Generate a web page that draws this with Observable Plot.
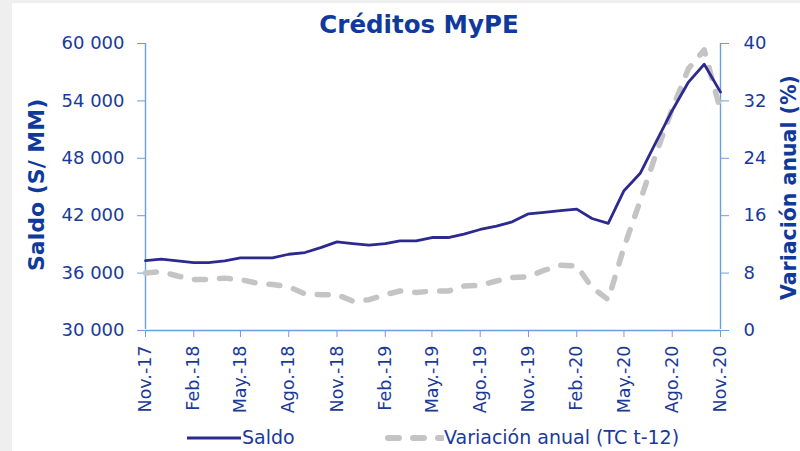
<!DOCTYPE html>
<html>
<head>
<meta charset="utf-8">
<script src="https://cdn.jsdelivr.net/npm/d3@7"></script>
<script src="https://cdn.jsdelivr.net/npm/@observablehq/plot@0.6"></script>
<style>
  html, body { margin: 0; padding: 0; background: #efefef; }
  #wrap { position: relative; width: 800px; height: 451px; overflow: hidden; font-family: "DejaVu Sans", sans-serif; }
  #panel { position: absolute; left: 12px; top: 3px; width: 788px; height: 448px; background: #fff; }
  #chart { position: absolute; left: 0; top: 0; }
  .title { position: absolute; left: 0; width: 838px; top: 10px; text-align: center; font-weight: bold; font-size: 24.5px; color: #0f3a9c; }
  .ytitle { position: absolute; font-weight: bold; color: #0f3a9c; white-space: nowrap; transform-origin: 0 0; }
  .legend { position: absolute; top: 425px; font-size: 19px; color: #1a3a9a; white-space: nowrap; }
</style>
</head>
<body>
<div id="wrap">
  <div id="panel"></div>
  <div id="chart"></div>
  <div class="title">Créditos MyPE</div>
  <div class="ytitle" id="ylt" style="font-size:22px;">Saldo (S/ MM)</div>
  <div class="ytitle" id="yrt" style="font-size:20.5px;">Variación anual (%)</div>
  <div class="legend" style="left:186px;">
    <svg width="56" height="24" style="vertical-align:middle"><line x1="1" y1="12" x2="55" y2="12" stroke="#2c2a8e" stroke-width="3"/></svg><span style="position:relative;top:1px;">Saldo</span>
  </div>
  <div class="legend" style="left:384px;">
    <svg width="60" height="24" style="vertical-align:middle"><line x1="4" y1="12" x2="58" y2="12" stroke="#c4c4c4" stroke-width="6" stroke-dasharray="11,14" stroke-linecap="round"/></svg><span style="position:relative;top:1px;">Variación anual (TC t-12)</span>
  </div>
</div>
<script>
// Months (monthly observations)
const months = [
  "2017-11","2017-12","2018-01","2018-02","2018-03","2018-04","2018-05","2018-06","2018-07","2018-08","2018-09","2018-10",
  "2018-11","2018-12","2019-01","2019-02","2019-03","2019-04","2019-05","2019-06","2019-07","2019-08","2019-09","2019-10",
  "2019-11","2019-12","2020-01","2020-02","2020-03","2020-04","2020-05","2020-06","2020-07","2020-08","2020-09","2020-10",
  "2020-11"
];
// Saldo (S/ MM)
const saldo = [
  37300, 37450, 37270, 37100, 37100, 37270, 37590, 37590, 37590, 37970, 38150, 38670,
  39270, 39090, 38920, 39090, 39370, 39370, 39720, 39720, 40070, 40560, 40910, 41360,
  42200, 42340, 42520, 42690, 41710, 41190, 44610, 46430, 49680, 53000, 55970, 57830,
  54920
];
// Variación anual (TC t-12), %
const variacion = [
  8.0, 8.2, 7.6, 7.1, 7.1, 7.3, 7.1, 6.6, 6.4, 6.1, 5.1, 5.0,
  5.0, 4.1, 4.3, 5.0, 5.5, 5.3, 5.5, 5.5, 6.2, 6.3, 6.9, 7.4,
  7.5, 8.4, 9.1, 9.0, 6.0, 4.3, 11.6, 18.1, 24.6, 30.9, 36.5, 39.1,
  30.7
];
// Axis ticks
const xTickMonths = ["2017-11","2018-02","2018-05","2018-08","2018-11","2019-02","2019-05","2019-08","2019-11","2020-02","2020-05","2020-08","2020-11"];
const xTickLabels = ["Nov.-17","Feb.-18","May.-18","Ago.-18","Nov.-18","Feb.-19","May.-19","Ago.-19","Nov.-19","Feb.-20","May.-20","Ago.-20","Nov.-20"];
const leftTicks = [30000, 36000, 42000, 48000, 54000, 60000];
const rightTicks = [0, 8, 16, 24, 32, 40];

const parse = d3.utcParse("%Y-%m");
const data = months.map((m, i) => ({date: parse(m), saldo: saldo[i], varp: variacion[i]}));
const xTickDates = xTickMonths.map(parse);
const labelByTime = new Map(xTickDates.map((d, i) => [+d, xTickLabels[i]]));

const yMin = leftTicks[0], yMax = leftTicks[leftTicks.length - 1];
const rMax = rightTicks[rightTicks.length - 1];
const k = (yMax - yMin) / rMax;            // right-axis value -> left-axis units
const toLeft = v => yMin + v * k;

const axisColor = "#6b9fdc";
const textColor = "#1a3a9a";
const fmt = d => d3.format(",")(d).replace(/,/g, " ");

const chart = Plot.plot({
  width: 800,
  height: 451,
  marginTop: 43,
  marginBottom: 121,
  marginLeft: 145,
  marginRight: 80,
  style: {fontFamily: "DejaVu Sans", fontSize: "17.5px", background: "transparent", overflow: "visible"},
  x: {type: "utc", domain: [xTickDates[0], xTickDates[xTickDates.length - 1]]},
  y: {domain: [yMin, yMax]},
  marks: [
    Plot.ruleX([xTickDates[0]], {stroke: axisColor, strokeWidth: 1.4, y1: yMin, y2: yMax, insetTop: -1}),
    Plot.ruleX([xTickDates[xTickDates.length - 1]], {stroke: axisColor, strokeWidth: 1.4, y1: yMin, y2: yMax, insetTop: -1}),
    Plot.ruleY([yMin], {stroke: axisColor, strokeWidth: 1.4}),
    Plot.axisY({anchor: "left", ticks: leftTicks, tickFormat: fmt, tickSize: 8, tickPadding: 13,
      stroke: axisColor, fill: textColor, label: null, fontSize: 18}),
    Plot.axisY({anchor: "right", ticks: rightTicks.map(toLeft), tickFormat: d => String(Math.round((d - yMin) / k)),
      tickSize: 8, tickPadding: 15, stroke: axisColor, fill: textColor, label: null, fontSize: 18}),
    Plot.axisX({ticks: xTickDates, tickFormat: d => labelByTime.get(+d), tickRotate: -90, tickSize: 7, tickPadding: 8,
      stroke: axisColor, fill: textColor, label: null}),
    Plot.line(data, {x: "date", y: d => toLeft(d.varp), stroke: "#c4c4c4", strokeWidth: 5.5,
      strokeDasharray: "11,14", strokeLinecap: "round", strokeLinejoin: "round"}),
    Plot.line(data, {x: "date", y: "saldo", stroke: "#2c2a8e", strokeWidth: 2.8})
  ]
});
document.getElementById("chart").appendChild(chart);

// Rotated axis titles
const ylt = document.getElementById("ylt");
const w1 = ylt.getBoundingClientRect().width, h1 = ylt.getBoundingClientRect().height;
ylt.style.left = (36 - h1 / 2) + "px";
ylt.style.top = (185 + w1 / 2) + "px";
ylt.style.transform = "rotate(-90deg)";
const yrt = document.getElementById("yrt");
const w2 = yrt.getBoundingClientRect().width, h2 = yrt.getBoundingClientRect().height;
yrt.style.left = (789 - h2 / 2) + "px";
yrt.style.top = (188 + w2 / 2) + "px";
yrt.style.transform = "rotate(-90deg)";
</script>
</body>
</html>
